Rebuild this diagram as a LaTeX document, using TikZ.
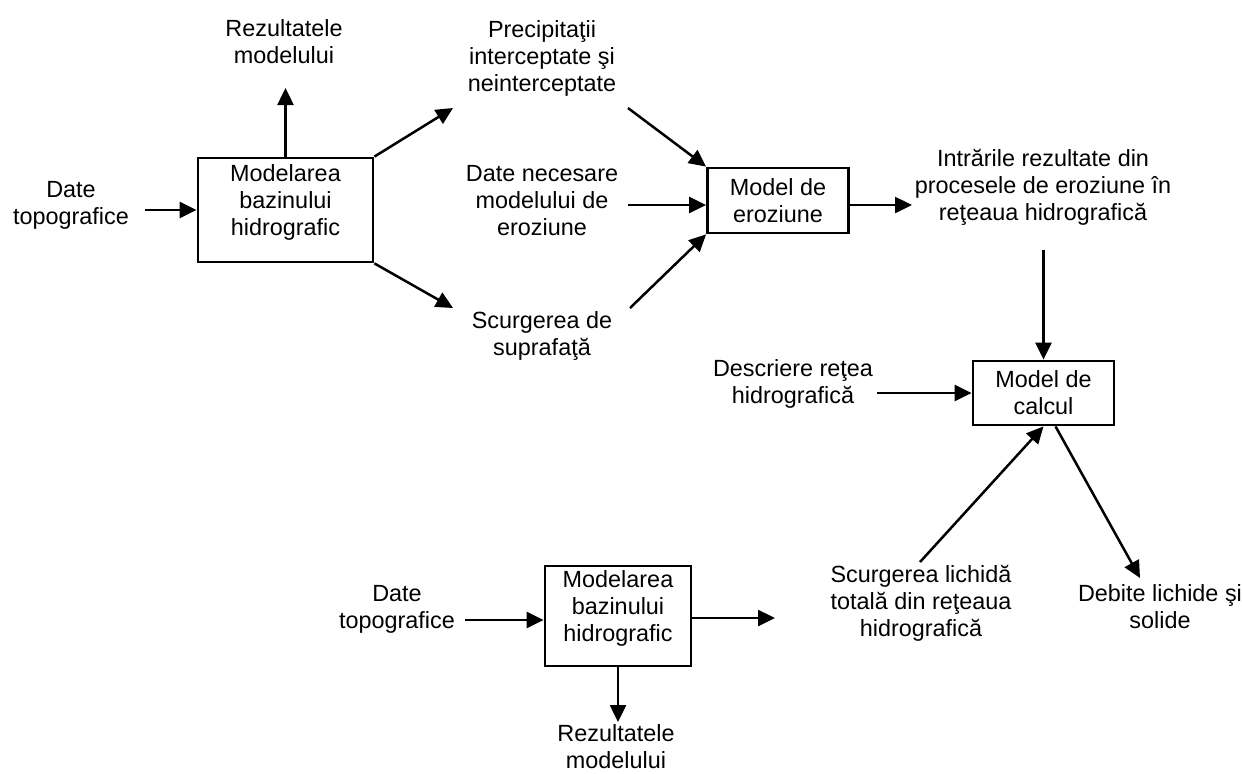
\documentclass[tikz,border=0pt]{standalone}
\usepackage{fontspec}
\setmainfont{Liberation Sans}
\usetikzlibrary{arrows.meta}
\newcommand\upbox[1]{\raisebox{3.5pt}[\height][\depth]{\begin{tabular}{@{}c@{}}#1\end{tabular}}}
\begin{document}
\begin{tikzpicture}[x=0.5pt,y=-0.5pt,
  every node/.style={font=\fontsize{11.7}{13.5}\selectfont, inner sep=0pt},
  lbl/.style={align=center},
  blk/.style={draw, line width=1.4pt, inner sep=0pt},
  arr/.style={line width=1.25pt, -{Triangle[length=8.5pt,width=8pt]}}]
\useasboundingbox (0,0) rectangle (1242,773);
% boxes
\node[blk, minimum width=87.5pt, minimum height=52pt] (box1) at (285.5,210) {\upbox{Modelarea\\bazinului\\hidrografic}};
\node[blk, minimum width=70.5pt, minimum height=32.5pt, align=center] (box2) at (778,200.5) {Model de\\eroziune};
\node[blk, minimum width=70.5pt, minimum height=32pt, align=center] (box3) at (1043.5,393) {Model de\\calcul};
\node[blk, minimum width=73pt, minimum height=50pt] (box4) at (618,616) {\upbox{Modelarea\\bazinului\\hidrografic}};
% labels
\node[lbl] (dt1) at (71,205) {Date\\topografice};
\node[lbl] (r1) at (284,42) {Rezultatele\\modelului};
\node[lbl] (precip) at (542,58) {Precipitaţii\\interceptate şi\\neinterceptate};
\node[lbl] (datenec) at (542,201) {Date necesare\\modelului de\\eroziune};
\node[lbl] (scurg) at (542,336) {Scurgerea de\\suprafaţă};
\node[lbl] (intr) at (1043,187) {Intrările rezultate din\\procesele de eroziune în\\reţeaua hidrografică};
\node[lbl] (desc) at (793,384) {Descriere reţea\\hidrografică};
\node[lbl] (scl) at (921,603) {Scurgerea lichidă\\totală din reţeaua\\hidrografică};
\node[lbl] (deb) at (1160,607) {Debite lichide şi\\solide};
\node[lbl] (dt2) at (397,609) {Date\\topografice};
\node[lbl] (r2) at (616,747) {Rezultatele\\modelului};
% connector ends
\coordinate (c1) at (145,210);
\coordinate (c2) at (285.5,88);
\coordinate (c3) at (453,108);
\coordinate (c4) at (453,308);
\coordinate (c5) at (628,108);
\coordinate (c6) at (628,205);
\coordinate (c7) at (630,308);
\coordinate (c8) at (912,205);
\coordinate (c9) at (1043.5,250);
\coordinate (c10) at (877,393);
\coordinate (c11) at (920,562);
\coordinate (c12) at (1140,578);
\coordinate (c13) at (465,620);
\coordinate (c14) at (775,618);
\coordinate (c15) at (618,722);
% connectors
\draw[arr] (c1) -- (box1.west);
\draw[arr] (box1.north) -- (c2);
\draw[arr] (box1.north east) -- (c3);
\draw[arr] (box1.south east) -- (c4);
\draw[arr] (c5) -- (box2.north west);
\draw[arr] (c6) -- (c6 -| box2.west);
\draw[arr] (c7) -- (box2.south west);
\draw[arr] (box2.east |- c8) -- (c8);
\draw[arr] (c9) -- (box3.north);
\draw[arr] (c10) -- (box3.west);
\draw[arr] (c11) -- (box3.south);
\draw[arr] ([xshift=6pt]box3.south) -- (c12);
\draw[arr] (c13) -- (c13 -| box4.west);
\draw[arr] (box4.east |- c14) -- (c14);
\draw[arr] (box4.south) -- (c15);
\end{tikzpicture}
\end{document}
